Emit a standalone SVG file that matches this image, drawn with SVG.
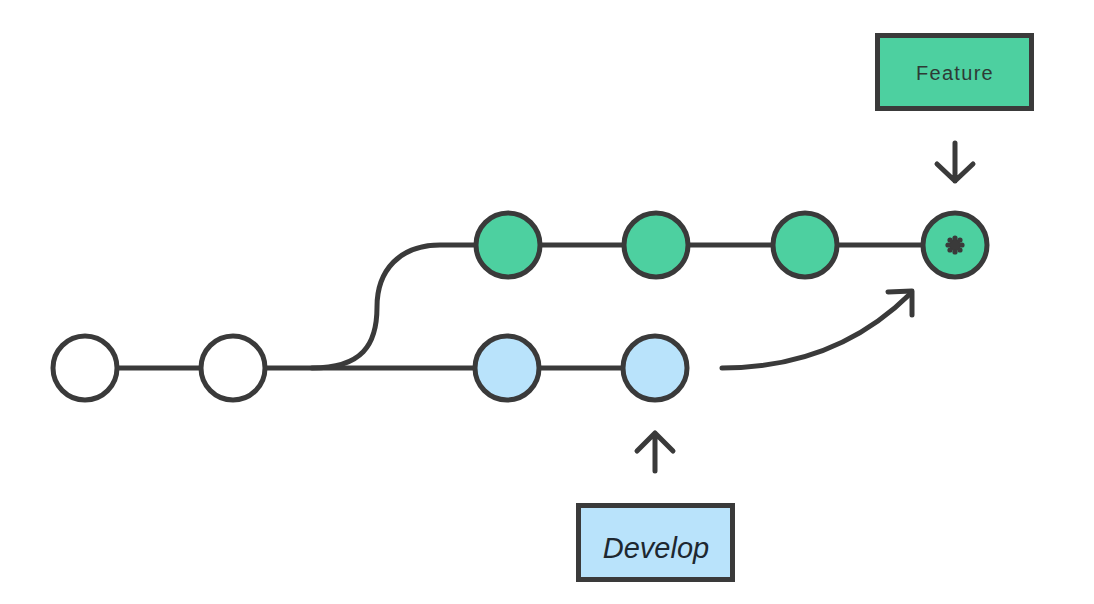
<svg xmlns="http://www.w3.org/2000/svg" width="1094" height="604" viewBox="0 0 1094 604">
<style>
.ln{fill:none;stroke:#3a3a3a;stroke-width:5;stroke-linecap:round;stroke-linejoin:round}
.c{stroke:#3a3a3a;stroke-width:5}
.w{fill:#ffffff}
.g{fill:#4dd0a0}
.b{fill:#b9e3fb}
.lbl{font-family:"Liberation Sans","DejaVu Sans",sans-serif;fill:#2e3a35;text-anchor:middle}
</style>
<rect width="1094" height="604" fill="#ffffff"/>
<g id="connectors">
<path class="ln" d="M117 368 L201 368"/>
<path class="ln" d="M265 368 L475 368"/>
<path class="ln" d="M540 368 L623 368"/>
<path class="ln" d="M312 368 C362 368 377 345 377 307 C377 270 400 245 440 245 L476 245"/>
<path class="ln" d="M540 245 L624 245"/>
<path class="ln" d="M688 245 L773 245"/>
<path class="ln" d="M837 245 L923 245"/>
<path class="ln" d="M722 368 Q835 368 910 294"/>
<path class="ln" d="M888 292 L912 291 L912 315"/>
<path class="ln" d="M955 143 L955 181 M937 164 L955 181 L973 164"/>
<path class="ln" d="M655 471 L655 433 M637 451 L655 433 L673 451"/>
</g>
<g id="n1"><circle class="c w" cx="85" cy="368" r="32"/></g>
<g id="n2"><circle class="c w" cx="233" cy="368" r="32"/></g>
<g id="d1"><circle class="c b" cx="507" cy="368" r="32"/></g>
<g id="d2"><circle class="c b" cx="655" cy="368" r="32"/></g>
<g id="f1"><circle class="c g" cx="508" cy="245" r="32"/></g>
<g id="f2"><circle class="c g" cx="656" cy="245" r="32"/></g>
<g id="f3"><circle class="c g" cx="805" cy="245" r="32"/></g>
<g id="f4"><circle class="c g" cx="955" cy="245" r="32"/>
<g fill="#3a3a3a"><circle cx="955" cy="245" r="6"/>
<circle cx="955" cy="238" r="2.6"/><circle cx="955" cy="252" r="2.6"/><circle cx="948" cy="245" r="2.6"/><circle cx="962" cy="245" r="2.6"/>
<circle cx="950" cy="240" r="2.6"/><circle cx="960" cy="240" r="2.6"/><circle cx="950" cy="250" r="2.6"/><circle cx="960" cy="250" r="2.6"/></g></g>
<g id="feature">
<rect x="877.5" y="35.5" width="154" height="73" fill="#4dd0a0" stroke="#3a3a3a" stroke-width="5"/>
<text class="lbl" x="955" y="80" font-size="20" letter-spacing="1.3">Feature</text>
</g>
<g id="develop">
<rect x="578.5" y="505.5" width="154" height="74" fill="#b9e3fb" stroke="#3a3a3a" stroke-width="5"/>
<text class="lbl" x="656" y="558" font-size="29" font-style="italic" style="fill:#1e2830">Develop</text>
</g>
</svg>
